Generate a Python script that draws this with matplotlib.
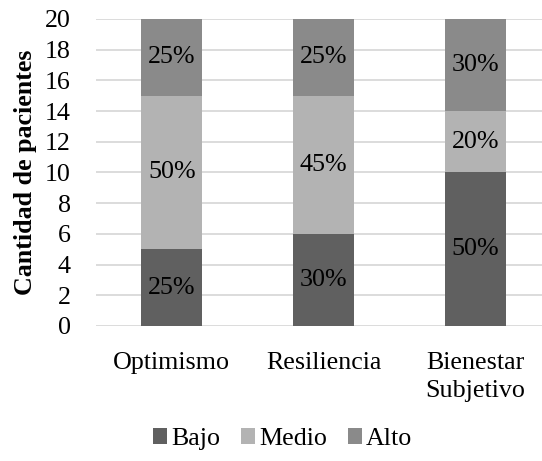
import numpy as np
import matplotlib
matplotlib.use('Agg')
import matplotlib.pyplot as plt

plt.rcParams['font.family'] = ['Liberation Serif', 'DejaVu Serif']

categorias = ['Optimismo', 'Resiliencia', 'Bienestar\nSubjetivo']
bajo = [5, 6, 10]
medio = [10, 9, 4]
alto = [5, 5, 6]
pct_bajo = ['25%', '30%', '50%']
pct_medio = ['50%', '45%', '20%']
pct_alto = ['25%', '25%', '30%']
yticks = np.arange(0, 21, 2)

fs = 18.7
fig = plt.figure(figsize=(5.42, 4.61), dpi=100)
ax = fig.add_axes([0.177, 0.293, 0.84, 0.666])

x = np.arange(len(categorias))
w = 0.4
b = np.array(bajo)
m = np.array(medio)
a = np.array(alto)
ax.bar(x, b, w, color='#606060', label='Bajo', zorder=3)
ax.bar(x, m, w, bottom=b, color='#b3b3b3', label='Medio', zorder=3)
ax.bar(x, a, w, bottom=b + m, color='#8a8a8a', label='Alto', zorder=3)

for i in range(len(x)):
    ax.text(x[i], b[i] / 2, pct_bajo[i], ha='center', va='center', fontsize=fs, zorder=4)
    ax.text(x[i], b[i] + m[i] / 2, pct_medio[i], ha='center', va='center', fontsize=fs, zorder=4)
    ax.text(x[i], b[i] + m[i] + a[i] / 2, pct_alto[i], ha='center', va='center', fontsize=fs, zorder=4)

ax.set_xlim(-0.5, 2.5)
ax.set_ylim(0, 20)
ax.set_yticks(yticks)
ax.set_xticks(x)
ax.set_xticklabels(categorias, fontsize=fs, linespacing=1.35)
ax.tick_params(axis='y', labelsize=fs, length=0, pad=18)
ax.tick_params(axis='x', length=0, pad=19)
ax.grid(axis='y', color='#d9d9d9', linewidth=1.3, zorder=0)
for s in ax.spines.values():
    s.set_visible(False)
ax.set_ylabel('Cantidad de pacientes', fontsize=fs, fontweight='bold', labelpad=6)

fig.legend(loc='center', bbox_to_anchor=(0.521, 0.047), ncol=3, frameon=False,
           fontsize=fs, handlelength=0.55, handleheight=0.55, handletextpad=0.15,
           columnspacing=0.8)

fig.savefig('out.png', dpi=100)
